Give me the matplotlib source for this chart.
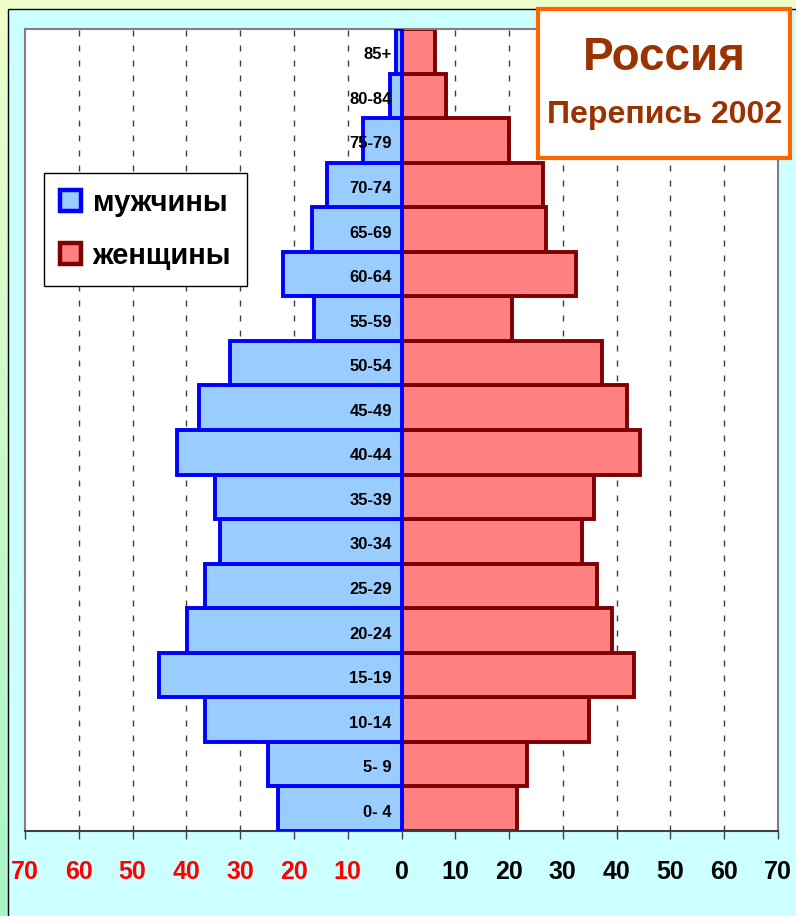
import numpy as np
import matplotlib
matplotlib.use("Agg")
import matplotlib.pyplot as plt
from matplotlib.patches import Rectangle, Patch
from matplotlib.colors import LinearSegmentedColormap

plt.rcParams['font.family'] = ['Liberation Sans', 'DejaVu Sans']
plt.rcParams['font.weight'] = 'bold'

# age groups, bottom to top
ages = ['0- 4', '5- 9', '10-14', '15-19', '20-24', '25-29', '30-34', '35-39',
        '40-44', '45-49', '50-54', '55-59', '60-64', '65-69', '70-74',
        '75-79', '80-84', '85+']
men = [22.9, 24.9, 36.6, 45.0, 39.8, 36.6, 33.8, 34.6, 41.8, 37.7, 31.8,
       16.2, 22.1, 16.7, 13.9, 7.2, 2.2, 1.1]
women = [21.4, 23.4, 34.9, 43.3, 39.2, 36.4, 33.6, 35.7, 44.4, 42.0, 37.2,
         20.6, 32.5, 26.8, 26.4, 19.9, 8.2, 6.3]
ticks = list(range(-70, 71, 10))
labels = ['мужчины', 'женщины']

W, H = 796, 916
fig = plt.figure(figsize=(W / 100, H / 100), dpi=100)

# background: gradient + cyan panel with black border
bg = fig.add_axes([0, 0, 1, 1], zorder=-10)
cmap = LinearSegmentedColormap.from_list('bg', ['#EEFFCC', '#A8F5C8'])
bg.imshow(np.linspace(0, 1, 256)[:, None], aspect='auto', cmap=cmap,
          extent=(0, 1, 0, 1))
bg.add_patch(Rectangle((8 / W, -0.05), 1.2, 1 - 9 / H + 0.05,
                       fc='#CCFFFF', ec='black', lw=1))
bg.set_xlim(0, 1)
bg.set_ylim(0, 1)
bg.axis('off')

ax = fig.add_axes([25 / W, 1 - 831 / H, 753 / W, 802 / H])
ax.set_facecolor('white')
y = np.arange(len(ages))

ax.barh(y, women, height=1.0, color='#FF8080', edgecolor='#800000',
        linewidth=2.8, zorder=2)
ax.barh(y, -np.array(men), height=1.0, color='#99CCFF', edgecolor='#0000FF',
        linewidth=2.8, zorder=3)

for v in ticks[1:-1]:
    if v != 0:
        ax.axvline(v, color='#404040', lw=1.0, ls=(0, (4.3, 6.5)), zorder=1)

for i, a in enumerate(ages):
    ax.text(-1.8, i - 0.08, a, ha='right', va='center', fontsize=12,
            fontweight='bold', color='black', zorder=5)

ax.set_xlim(-70, 70)
ax.set_ylim(-0.5, len(ages) - 0.5)
ax.set_yticks([])
ax.set_xticks(ticks)
ax.set_xticklabels([str(abs(t)) for t in ticks])
for t, lab in zip(ticks, ax.get_xticklabels()):
    lab.set_color('red' if t < 0 else 'black')
ax.tick_params(axis='x', length=6, width=1, color='#404040', pad=15,
               labelsize=18)
for s in ['top', 'left', 'right']:
    ax.spines[s].set_color('#808080')
    ax.spines[s].set_linewidth(1.5)
ax.spines['bottom'].set_color('#404040')
ax.spines['bottom'].set_linewidth(1.5)

# legend
handles = [Patch(fc='#99CCFF', ec='#0000FF', lw=3.2),
           Patch(fc='#FF8080', ec='#800000', lw=3.2)]
fig.legend(handles, labels, loc='upper left',
           bbox_to_anchor=(44 / W, 1 - 173 / H),
           prop={'size': 21, 'weight': 'bold'}, frameon=True, fancybox=False,
           edgecolor='black', framealpha=1, handlelength=0.72,
           handleheight=0.72, handletextpad=0.4, labelspacing=0.85,
           borderpad=0.55, borderaxespad=0)

# title box
fig.add_artist(Rectangle((538 / W, 1 - 158 / H), 252 / W, 149 / H,
                         transform=fig.transFigure, fc='white',
                         ec='#FF6600', lw=3, zorder=5))
fig.text(664 / W, 1 - 58 / H, 'Россия', ha='center', va='center',
         fontsize=33, fontweight='bold', color='#993300', zorder=6)
fig.text(665 / W, 1 - 115 / H, 'Перепись 2002', ha='center', va='center',
         fontsize=23, fontweight='bold', color='#993300', zorder=6)

fig.savefig('out.png', dpi=100)
